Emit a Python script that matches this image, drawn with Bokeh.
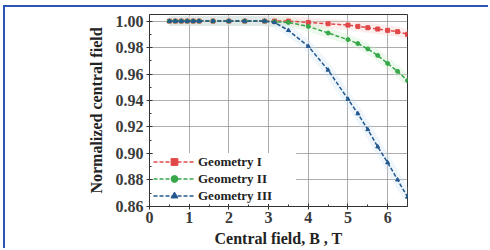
from bokeh.plotting import figure
from bokeh.models import Legend, LegendItem, FixedTicker, Range1d, CustomJSTickFormatter
from bokeh.embed import file_html
from bokeh.resources import INLINE

field = [0.5, 0.65, 0.8, 0.95, 1.1, 1.25, 1.6, 2.0, 2.4, 2.9, 3.15, 3.5, 4.0, 4.5, 5.0, 5.25, 5.5, 5.75, 6.0, 6.25, 6.5]
geom1 = [1.0, 1.0, 1.0, 1.0, 1.0, 1.0, 1.0, 1.0, 1.0, 1.0, 1.0, 1.0, 0.999, 0.998, 0.997, 0.996, 0.995, 0.994, 0.993, 0.992, 0.990]
geom2 = [1.0, 1.0, 1.0, 1.0, 1.0, 1.0, 1.0, 1.0, 1.0, 1.0, 0.9995, 0.999, 0.996, 0.991, 0.986, 0.983, 0.979, 0.974, 0.968, 0.962, 0.955]
geom3 = [1.0, 1.0, 1.0, 1.0, 1.0, 1.0, 1.0, 1.0, 1.0, 1.0, 0.999, 0.993, 0.981, 0.963, 0.941, 0.930, 0.918, 0.905, 0.893, 0.880, 0.867]
names = ["Geometry I", "Geometry II", "Geometry III"]
x_ticks = [0, 1, 2, 3, 4, 5, 6]
y_ticks = [0.86, 0.88, 0.90, 0.92, 0.94, 0.96, 0.98, 1.00]

FONT = "Liberation Serif"
BLUE_FRAME = "#2a55b5"

p = figure(width=485, height=243, output_backend="svg", toolbar_location=None,
           x_range=Range1d(0, 6.5), y_range=Range1d(0.8598, 1.005),
           min_border_left=144, min_border_right=83, min_border_top=7, min_border_bottom=44)
p.styles = {"margin-left": "3px", "margin-top": "5px",
            "border-left": f"2px solid {BLUE_FRAME}", "border-top": f"2px solid {BLUE_FRAME}"}

p.outline_line_color = "#333333"
p.xgrid.ticker = FixedTicker(ticks=x_ticks)
p.ygrid.ticker = FixedTicker(ticks=y_ticks)
p.grid.grid_line_color = "#8a8a8a"
p.grid.grid_line_alpha = 0.7

for ax in [p.xaxis[0], p.yaxis[0]]:
    ax.major_label_text_font = FONT
    ax.major_label_text_font_size = "16px"
    ax.major_label_text_font_style = "bold"
    ax.major_label_text_color = "#3a3a3a"
    ax.axis_label_text_font = FONT
    ax.axis_label_text_font_size = "16px"
    ax.axis_label_text_font_style = "bold"
    ax.axis_label_text_color = "#222222"
    ax.axis_line_color = "#333333"
    ax.major_tick_line_color = "#333333"
    ax.minor_tick_line_color = "#333333"
    ax.major_tick_in = 3
    ax.major_tick_out = 3
    ax.minor_tick_in = 2
    ax.minor_tick_out = 0

p.xaxis[0].ticker = FixedTicker(ticks=x_ticks, minor_ticks=[i * 0.5 for i in range(14)])
p.yaxis[0].ticker = FixedTicker(ticks=y_ticks, minor_ticks=[0.86 + i * 0.01 for i in range(15)])
p.yaxis[0].formatter = CustomJSTickFormatter(code="return tick.toFixed(2);")
p.xaxis[0].axis_label = "Central field, B , T"
p.yaxis[0].axis_label = "Normalized central field"
p.xaxis[0].axis_label_standoff = 4
p.yaxis[0].axis_label_standoff = 8
p.xaxis[0].major_label_standoff = 2
p.yaxis[0].major_label_standoff = 3

colors = ["#e04848", "#36a84a", "#23588f"]
bands = ["#f8c8c8", "#c8ecc8", "#c8e0f4"]
series = [geom1, geom2, geom3]
markers = ["square", "circle", "triangle"]
items = []
for ys, b in zip(series, bands):
    p.line(field, ys, line_color=b, line_width=10, line_alpha=0.3)
for name, ys, c, m in zip(names, series, colors, markers):
    ln = p.line(field, ys, line_color=c, line_width=1.5, line_dash="4 2")
    mk = p.scatter(field, ys, marker=m, size=4, fill_color=c, line_color=c)
    items.append(LegendItem(label=name, renderers=[ln, mk]))

legend = Legend(items=items, location=(4, 2), background_fill_color="white", background_fill_alpha=1,
                border_line_color=None, label_text_font=FONT, label_text_font_size="13px",
                label_text_font_style="bold", label_text_color="#222222",
                glyph_width=42, glyph_height=17, label_height=17, label_width=98, spacing=0, padding=9,
                margin=0, label_standoff=3)
p.add_layout(legend, "center")

open("out.html", "w").write(file_html(p, INLINE))
